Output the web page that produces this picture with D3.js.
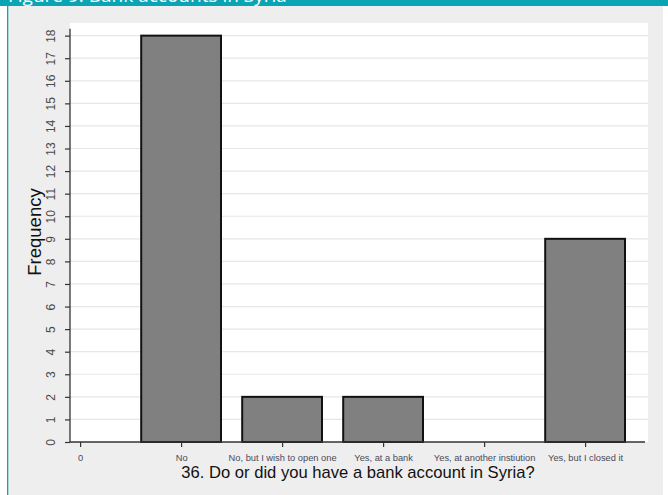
<!DOCTYPE html>
<html><head><meta charset="utf-8">
<script src="https://cdn.jsdelivr.net/npm/d3@7"></script>
<style>body{margin:0;background:#fff;} svg{display:block;}</style>
</head><body>
<svg id="chart" width="668" height="495"></svg>
<script>
const xTickLabels = ["0", "No", "No, but I wish to open one", "Yes, at a bank", "Yes, at another instiution", "Yes, but I closed it"];
const categories = ["No", "No, but I wish to open one", "Yes, at a bank", "Yes, at another instiution", "Yes, but I closed it"];
const categoryPos = [1, 2, 3, 4, 5];
const frequencies = [18, 2, 2, 0, 9];
const yTicks = [0,1,2,3,4,5,6,7,8,9,10,11,12,13,14,15,16,17,18];

(function(){
const svg = d3.select("#chart");
const W = 668, H = 495;
svg.append("rect").attr("x",0).attr("y",0).attr("width",W).attr("height",H).attr("fill","#ffffff");
svg.append("rect").attr("x",8).attr("y",6).attr("width",655).attr("height",H-6).attr("fill","#eeeeee");
svg.append("rect").attr("x",7).attr("y",6).attr("width",1.3).attr("height",H-6).attr("fill","#0aa5b5");
svg.append("rect").attr("x",0).attr("y",0).attr("width",W).attr("height",6).attr("fill","#0aa5b5");
svg.append("text").attr("x",8).attr("y",1.5).attr("fill","#fff")
  .attr("font-family","Open Sans, sans-serif").attr("font-size",19)
  .text("Figure 9: Bank accounts in Syria");

const pL = 70, pR = 648, pT = 23, pB = 442;
const x = d3.scaleLinear().domain([-0.1, 5.6]).range([pL, pL + 5.7*101]);
const y = d3.scaleLinear().domain([0, 18.56]).range([pB, pT]);

svg.append("rect").attr("x",pL).attr("y",pT).attr("width",pR-pL).attr("height",pB-pT).attr("fill","#fff");

svg.append("g").selectAll("line").data(yTicks.filter(d=>d>0)).join("line")
  .attr("x1",pL).attr("x2",pR).attr("y1",d=>y(d)).attr("y2",d=>y(d))
  .attr("stroke","#e6e6e6").attr("stroke-width",1.2);

const bw = 0.79;
svg.append("g").selectAll("rect").data(frequencies).join("rect")
  .attr("x",(d,i)=>x(categoryPos[i]-bw/2))
  .attr("width",(d,i)=>x(categoryPos[i]+bw/2)-x(categoryPos[i]-bw/2))
  .attr("y",d=>y(d)).attr("height",d=>y(0)-y(d))
  .attr("fill","#808080").attr("stroke","#111").attr("stroke-width",d=>d>0?2:0);

const yAxis = d3.axisLeft(y).tickValues(yTicks).tickSize(5).tickSizeOuter(0).tickFormat(d3.format("d"));
const gy = svg.append("g").attr("transform",`translate(${pL},0)`).call(yAxis);
gy.select(".domain").attr("stroke","#333").attr("stroke-width",1.3).attr("d",`M0,${pB}V${y(18.3)}`);
gy.selectAll(".tick line").attr("stroke","#333").attr("stroke-width",1.2);
gy.selectAll(".tick text").attr("font-family","Arial, Liberation Sans, sans-serif").attr("font-size",12)
  .attr("fill","#4a4a4a").attr("text-anchor","middle")
  .attr("transform","translate(-19,0) rotate(-90)").attr("x",0).attr("y",0).attr("dy","0.35em");

const xAxis = d3.axisBottom(x).tickValues([0,1,2,3,4,5]).tickSize(5).tickSizeOuter(0)
  .tickFormat((d,i)=>xTickLabels[i]);
const gx = svg.append("g").attr("transform",`translate(0,${pB})`).call(xAxis);
gx.select(".domain").attr("stroke","#333").attr("stroke-width",1.3).attr("d",`M${pL},0H${645}`);
gx.selectAll(".tick line").attr("stroke","#333").attr("stroke-width",1.2);
gx.selectAll(".tick text").attr("font-family","Arial, Liberation Sans, sans-serif").attr("font-size",9.3)
  .attr("fill","#4a4a5a").attr("y",12);

svg.append("text").attr("transform",`translate(41,232) rotate(-90)`)
  .attr("text-anchor","middle").attr("font-family","Arial, Liberation Sans, sans-serif")
  .attr("font-size",18.5).attr("fill","#111").text("Frequency");
svg.append("text").attr("x",358).attr("y",478)
  .attr("text-anchor","middle").attr("font-family","Arial, Liberation Sans, sans-serif")
  .attr("font-size",16.6).attr("fill","#111").text("36. Do or did you have a bank account in Syria?");
})();
</script>
</body></html>
